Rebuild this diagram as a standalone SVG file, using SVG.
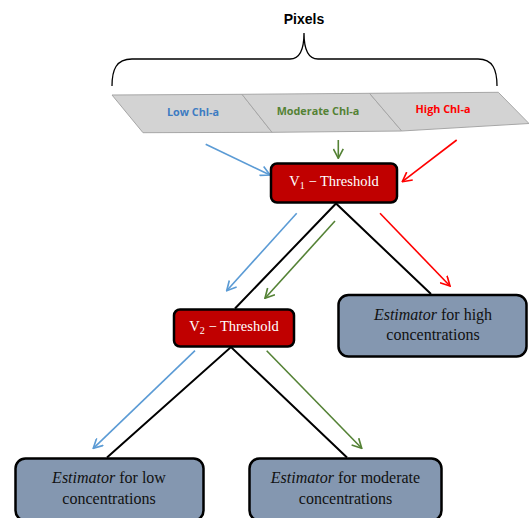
<svg xmlns="http://www.w3.org/2000/svg" width="529" height="518" viewBox="0 0 529 518">
<style>
.band{fill:#d3d3d3;stroke:#a6a6a6;stroke-width:1}
.lbl{font-family:"Open Sans","Liberation Sans",sans-serif;font-weight:bold;font-size:10.8px;text-anchor:middle}
.thr{fill:#c00000;stroke:#000;stroke-width:2.5}
.thrt{font-family:"Liberation Serif","DejaVu Serif",serif;font-size:14.5px;fill:#fff;text-anchor:middle}
.est{fill:#8497b0;stroke:#000;stroke-width:2.5}
.estt{font-family:"Liberation Serif","Times New Roman",serif;font-size:16px;fill:#111;text-anchor:middle}
.tree{stroke:#000;stroke-width:2;fill:none}
.ab{stroke:#5b9bd5;stroke-width:1.6;fill:none;marker-end:url(#mb)}
.ag{stroke:#548235;stroke-width:1.6;fill:none;marker-end:url(#mg)}
.ar{stroke:#ff0000;stroke-width:1.6;fill:none;marker-end:url(#mr)}
</style>
<defs>
<marker id="mb" viewBox="0 0 10 10" refX="9" refY="5" markerWidth="11" markerHeight="11" markerUnits="userSpaceOnUse" orient="auto"><path d="M0.5,0.5 L9,5 L0.5,9.5" fill="none" stroke="#5b9bd5" stroke-width="1.5"/></marker>
<marker id="mg" viewBox="0 0 10 10" refX="9" refY="5" markerWidth="11" markerHeight="11" markerUnits="userSpaceOnUse" orient="auto"><path d="M0.5,0.5 L9,5 L0.5,9.5" fill="none" stroke="#548235" stroke-width="1.5"/></marker>
<marker id="mr" viewBox="0 0 10 10" refX="9" refY="5" markerWidth="11" markerHeight="11" markerUnits="userSpaceOnUse" orient="auto"><path d="M0.5,0.5 L9,5 L0.5,9.5" fill="none" stroke="#ff0000" stroke-width="1.5"/></marker>
</defs>

<g id="pixels">
<text x="304" y="24" font-family="Liberation Sans,Arial,sans-serif" font-weight="bold" font-size="14" text-anchor="middle" fill="#000">Pixels</text>
<path d="M112,86 C112,70 116,59 132,59 L290,59 C299,59 304,52 304,33 C304,52 309,59 318,59 L478,59 C493,59 497,70 497,86" fill="none" stroke="#000" stroke-width="1.3"/>
</g>

<g id="band-low">
<polygon class="band" points="112,95 242,94.3 272,132.3 143,132.7"/>
<text class="lbl" x="193" y="115.5" fill="#3e7cc2">Low Chl-a</text>
</g>
<g id="band-moderate">
<polygon class="band" points="242,94.3 369.5,93.3 401.7,131 272,132.3"/>
<text class="lbl" x="318" y="114.5" fill="#548235">Moderate Chl-a</text>
</g>
<g id="band-high">
<polygon class="band" points="369.5,93.3 498.3,92.3 529,123.5 401.7,131"/>
<text class="lbl" x="443" y="113" fill="#ff0000">High Chl-a</text>
</g>

<g id="connectors">
<path class="tree" d="M235,308.5 L336,203.5 L431,294"/>
<path class="tree" d="M107,457.5 L231,347 L347,457.5"/>
<line class="ab" x1="205.7" y1="144.3" x2="270" y2="175"/>
<line class="ag" x1="338.3" y1="140" x2="338.3" y2="158.3"/>
<line class="ar" x1="456.7" y1="140" x2="402.3" y2="181.7"/>
<line class="ab" x1="296.7" y1="213.3" x2="226.7" y2="290.7"/>
<line class="ag" x1="335" y1="221" x2="265" y2="298.3"/>
<line class="ar" x1="380" y1="213.3" x2="450" y2="286"/>
<line class="ab" x1="195" y1="350.7" x2="93.3" y2="448.3"/>
<line class="ag" x1="266.7" y1="350.7" x2="361.7" y2="448.3"/>
</g>

<g id="v1">
<rect class="thr" x="271" y="163.5" width="126" height="39" rx="6"/>
<text class="thrt" x="334" y="186">V<tspan font-size="10" dy="3">1</tspan><tspan dy="-3"> − Threshold</tspan></text>
</g>
<g id="v2">
<rect class="thr" x="174" y="309.5" width="120" height="37" rx="6"/>
<text class="thrt" x="234" y="331">V<tspan font-size="10" dy="3">2</tspan><tspan dy="-3"> − Threshold</tspan></text>
</g>

<g id="est-high">
<rect class="est" x="338.5" y="295" width="188" height="61.5" rx="10"/>
<text class="estt" x="433" y="319.5"><tspan font-style="italic">Estimator</tspan> for high</text>
<text class="estt" x="433" y="339.5">concentrations</text>
</g>
<g id="est-low">
<rect class="est" x="15.5" y="458.5" width="188" height="62" rx="10"/>
<text class="estt" x="109" y="482.5"><tspan font-style="italic">Estimator</tspan> for low</text>
<text class="estt" x="109" y="503.5">concentrations</text>
</g>
<g id="est-moderate">
<rect class="est" x="249.5" y="458.5" width="192" height="62" rx="10"/>
<text class="estt" x="345.5" y="482.5"><tspan font-style="italic">Estimator</tspan> for moderate</text>
<text class="estt" x="345.5" y="503.5">concentrations</text>
</g>
</svg>
